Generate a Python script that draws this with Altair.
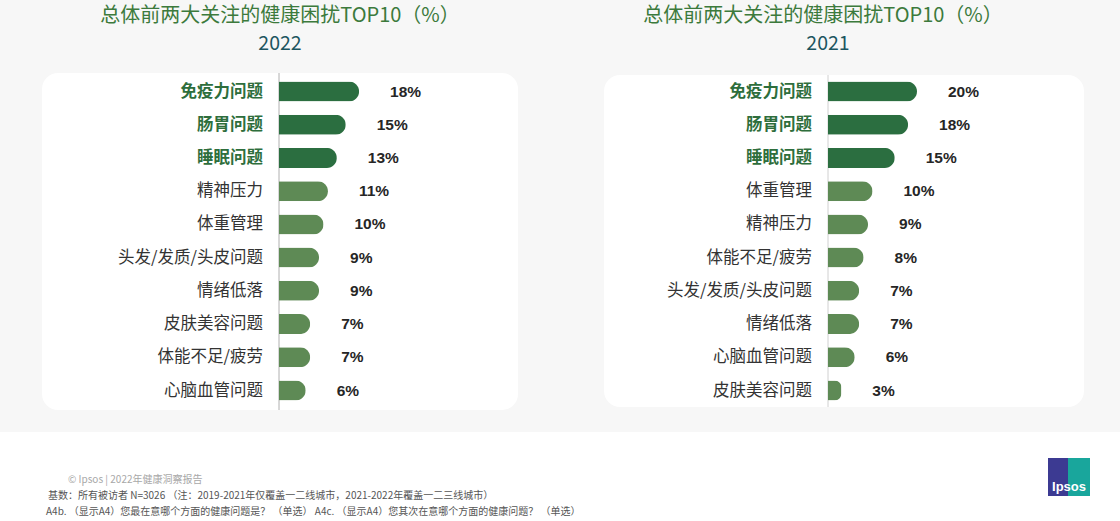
import altair as alt
import pandas as pd

# ---- data ----
cats_2022 = ["免疫力问题", "肠胃问题", "睡眠问题", "精神压力", "体重管理",
             "头发/发质/头皮问题", "情绪低落", "皮肤美容问题", "体能不足/疲劳", "心脑血管问题"]
vals_2022 = [18, 15, 13, 11, 10, 9, 9, 7, 7, 6]

cats_2021 = ["免疫力问题", "肠胃问题", "睡眠问题", "体重管理", "精神压力",
             "体能不足/疲劳", "头发/发质/头皮问题", "情绪低落", "心脑血管问题", "皮肤美容问题"]
vals_2021 = [20, 18, 15, 10, 9, 8, 7, 7, 6, 3]

title_main = "总体前两大关注的健康困扰TOP10（%）"
years = ["2022", "2021"]

footer_lines = [
    "© Ipsos | 2022年健康洞察报告",
    "基数：所有被访者  N=3026 （注：2019-2021年仅覆盖一二线城市，2021-2022年覆盖一二三线城市）",
    "A4b. （显示A4）您最在意哪个方面的健康问题是？ （单选） A4c. （显示A4）您其次在意哪个方面的健康问题？ （单选）",
]

FONT = "Noto Sans CJK SC"
NUMFONT = "Liberation Sans"
DARK = "#2b6e40"
LIGHT = "#5e8a55"

dummy = pd.DataFrame({"a": [0]})


def box(x, x2, y, y2, color, radius=0):
    return alt.Chart(dummy).mark_rect(color=color, cornerRadius=radius).encode(
        x=alt.value(x), x2=alt.value(x2), y=alt.value(y), y2=alt.value(y2))


def panel(cats, vals, axis_x, card, vline_color):
    df = pd.DataFrame({"cat": cats, "val": vals})
    df["rank"] = range(len(df))
    df["grp"] = ["top" if r < 3 else "rest" for r in df["rank"]]
    df["lab"] = [f"{v}%" for v in vals]
    base = alt.Chart(df)
    xs = alt.Scale(domain=[0, 20], range=[axis_x, axis_x + 89])
    ys = alt.Scale(type="point", domain=cats, range=[91.5, 390.5], padding=0)
    y = alt.Y("cat:N", scale=ys, axis=None, sort=None)
    bars = base.mark_bar(size=20, cornerRadiusEnd=10).encode(
        x=alt.X("val:Q", scale=xs, axis=None),
        y=y,
        color=alt.Color("grp:N", scale=alt.Scale(domain=["top", "rest"], range=[DARK, LIGHT]), legend=None),
    )
    vals_t = base.mark_text(align="left", baseline="middle", dx=31, font=NUMFONT,
                            fontSize=15.5, fontWeight="bold", color="#262626").encode(
        x=alt.X("val:Q", scale=xs, axis=None), y=y, text="lab:N")
    lab_top = base.transform_filter(alt.datum.grp == "top").mark_text(
        align="right", baseline="middle", font=FONT, fontSize=16.5, fontWeight="bold",
        color="#2e6e3c").encode(x=alt.value(axis_x - 16), y=y, text="cat:N")
    lab_rest = base.transform_filter(alt.datum.grp == "rest").mark_text(
        align="right", baseline="middle", font=FONT, fontSize=16.5,
        color="#333333").encode(x=alt.value(axis_x - 16), y=y, text="cat:N")
    cx0, cx1, cy0, cy1 = card
    rule = alt.Chart(dummy).mark_rule(color=vline_color, strokeWidth=1).encode(
        x=alt.value(axis_x), y=alt.value(cy0), y2=alt.value(cy1))
    return [rule, bars, vals_t, lab_top, lab_rest]


def text_at(txt, x, y, size, color, align="left", font=FONT, weight="normal"):
    return alt.Chart(pd.DataFrame({"t": [txt]})).mark_text(
        align=align, baseline="middle", fontSize=size, color=color, font=font,
        fontWeight=weight).encode(x=alt.value(x), y=alt.value(y), text="t:N")


card_l = (42, 518, 73, 410)
card_r = (604, 1084, 75, 407)

layers = [
    box(0, 1120, 0, 432, "#f7f7f7"),
    box(card_l[0], card_l[1], card_l[2], card_l[3], "#ffffff", 16),
    box(card_r[0], card_r[1], card_r[2], card_r[3], "#ffffff", 16),
    text_at(title_main, 280, 16, 20, "#3c7a3c", align="center"),
    text_at(years[0], 280, 44, 19.5, "#1d5560", align="center"),
    text_at(title_main, 823, 16, 20, "#3c7a3c", align="center"),
    text_at(years[1], 828, 44, 19.5, "#1d5560", align="center"),
]
layers += panel(cats_2022, vals_2022, 279, card_l, "#b0b0b0")
layers += panel(cats_2021, vals_2021, 828, card_r, "#d0d0d0")

layers += [
    text_at(footer_lines[0], 68, 480, 10, "#a8a8a8"),
    text_at(footer_lines[1], 48, 496, 10, "#555555"),
    text_at(footer_lines[2], 46, 512, 10, "#555555"),
    box(1048, 1068, 458, 496, "#3c3a92"),
    box(1068, 1090, 458, 496, "#19a69c"),
    text_at("Ipsos", 1069, 487, 13, "#ffffff", align="center", font=NUMFONT, weight="bold"),
]

chart = alt.layer(*layers).resolve_scale(
    x="independent", y="independent", color="independent"
).properties(
    width=1120, height=521, autosize=alt.AutoSizeParams(type="none"), padding=0,
    background="#ffffff"
).configure_view(stroke=None)

chart.save("out.html", embed_options={"renderer": "svg", "actions": False})
